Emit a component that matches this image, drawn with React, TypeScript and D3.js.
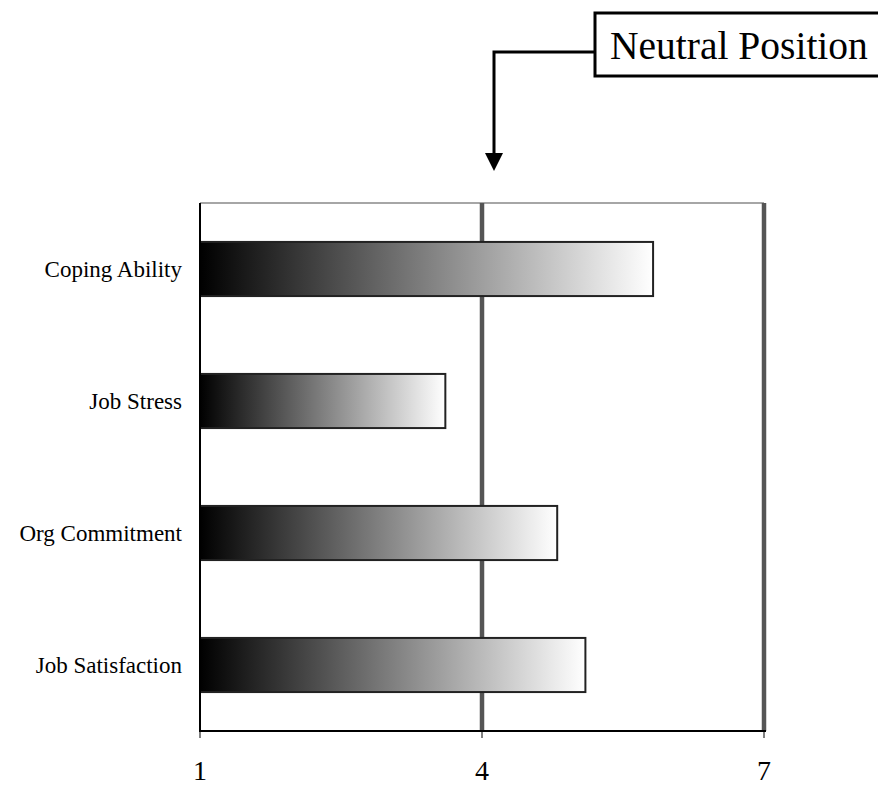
import { useRef, useEffect } from "react";
import * as d3 from "d3";

const categories = ["Coping Ability", "Job Stress", "Org Commitment", "Job Satisfaction"];
const values = [5.82, 3.61, 4.8, 5.1];
const tickValues = [1, 4, 7];
const calloutLabel = "Neutral Position";
const neutralValue = 4;

const width = 878;
const height = 787;

const App = () => {
  const svgRef = useRef<SVGSVGElement>(null);

  useEffect(() => {
    const svg = d3.select(svgRef.current);
    svg.selectAll("*").remove();
    const font = "'Liberation Serif', 'Times New Roman', serif";

    const x = d3.scaleLinear().domain([1, 7]).range([200, 764]);
    const y = d3
      .scaleBand<string>()
      .domain(categories)
      .range([203, 731])
      .paddingInner(0.59)
      .paddingOuter(0.295);

    const defs = svg.append("defs");
    const grad = defs
      .append("linearGradient")
      .attr("id", "barGrad")
      .attr("x1", "0")
      .attr("x2", "1")
      .attr("y1", "0")
      .attr("y2", "0");
    grad.append("stop").attr("offset", "0%").attr("stop-color", "#000");
    grad.append("stop").attr("offset", "100%").attr("stop-color", "#fff");

    // plot frame top
    svg
      .append("line")
      .attr("x1", x(1))
      .attr("x2", x(7))
      .attr("y1", 203)
      .attr("y2", 203)
      .attr("stroke", "#888")
      .attr("stroke-width", 1.5);

    // gridlines at 4 and 7
    svg
      .selectAll(".grid")
      .data(tickValues.slice(1))
      .enter()
      .append("line")
      .attr("x1", (d) => x(d))
      .attr("x2", (d) => x(d))
      .attr("y1", 203)
      .attr("y2", 731)
      .attr("stroke", "#555")
      .attr("stroke-width", 4.5);

    // bars
    svg
      .selectAll(".bar")
      .data(values)
      .enter()
      .append("rect")
      .attr("x", x(1))
      .attr("y", (d, i) => y(categories[i])!)
      .attr("width", (d) => x(d) - x(1))
      .attr("height", y.bandwidth())
      .attr("fill", "url(#barGrad)")
      .attr("stroke", "#222")
      .attr("stroke-width", 2);

    // left axis line
    svg
      .append("line")
      .attr("x1", x(1))
      .attr("x2", x(1))
      .attr("y1", 203)
      .attr("y2", 731)
      .attr("stroke", "#000")
      .attr("stroke-width", 2);

    // bottom axis
    svg
      .append("line")
      .attr("x1", x(1) - 1)
      .attr("x2", x(7) + 2)
      .attr("y1", 731)
      .attr("y2", 731)
      .attr("stroke", "#000")
      .attr("stroke-width", 2);
    svg
      .selectAll(".tick")
      .data(tickValues)
      .enter()
      .append("line")
      .attr("x1", (d) => x(d))
      .attr("x2", (d) => x(d))
      .attr("y1", 731)
      .attr("y2", 738)
      .attr("stroke", "#000")
      .attr("stroke-width", 1);
    svg
      .selectAll(".tickLabel")
      .data(tickValues)
      .enter()
      .append("text")
      .attr("x", (d) => x(d))
      .attr("y", 780)
      .attr("text-anchor", "middle")
      .style("font-family", font)
      .style("font-size", "28px")
      .text((d) => d);

    // category labels
    svg
      .selectAll(".catLabel")
      .data(categories)
      .enter()
      .append("text")
      .attr("x", 182)
      .attr("y", (d) => y(d)! + y.bandwidth() / 2)
      .attr("dy", "0.35em")
      .attr("text-anchor", "end")
      .style("font-family", font)
      .style("font-size", "23px")
      .text((d) => d);

    // callout
    const ax = x(neutralValue) + 12;
    svg
      .append("rect")
      .attr("x", 595)
      .attr("y", 13)
      .attr("width", 300)
      .attr("height", 63)
      .attr("fill", "#fff")
      .attr("stroke", "#000")
      .attr("stroke-width", 3);
    svg
      .append("text")
      .attr("x", 610)
      .attr("y", 59)
      .style("font-family", font)
      .style("font-size", "39.5px")
      .text(calloutLabel);
    svg
      .append("path")
      .attr("d", `M595,52 H${ax} V155`)
      .attr("fill", "none")
      .attr("stroke", "#000")
      .attr("stroke-width", 3);
    svg
      .append("path")
      .attr("d", `M${ax - 9},153 L${ax + 9},153 L${ax},171 Z`)
      .attr("fill", "#000");
  }, []);

  return (
    <svg
      ref={svgRef}
      width={width}
      height={height}
      style={{ position: "absolute", left: 0, top: 0, background: "#fff" }}
    ></svg>
  );
};

export default App;
